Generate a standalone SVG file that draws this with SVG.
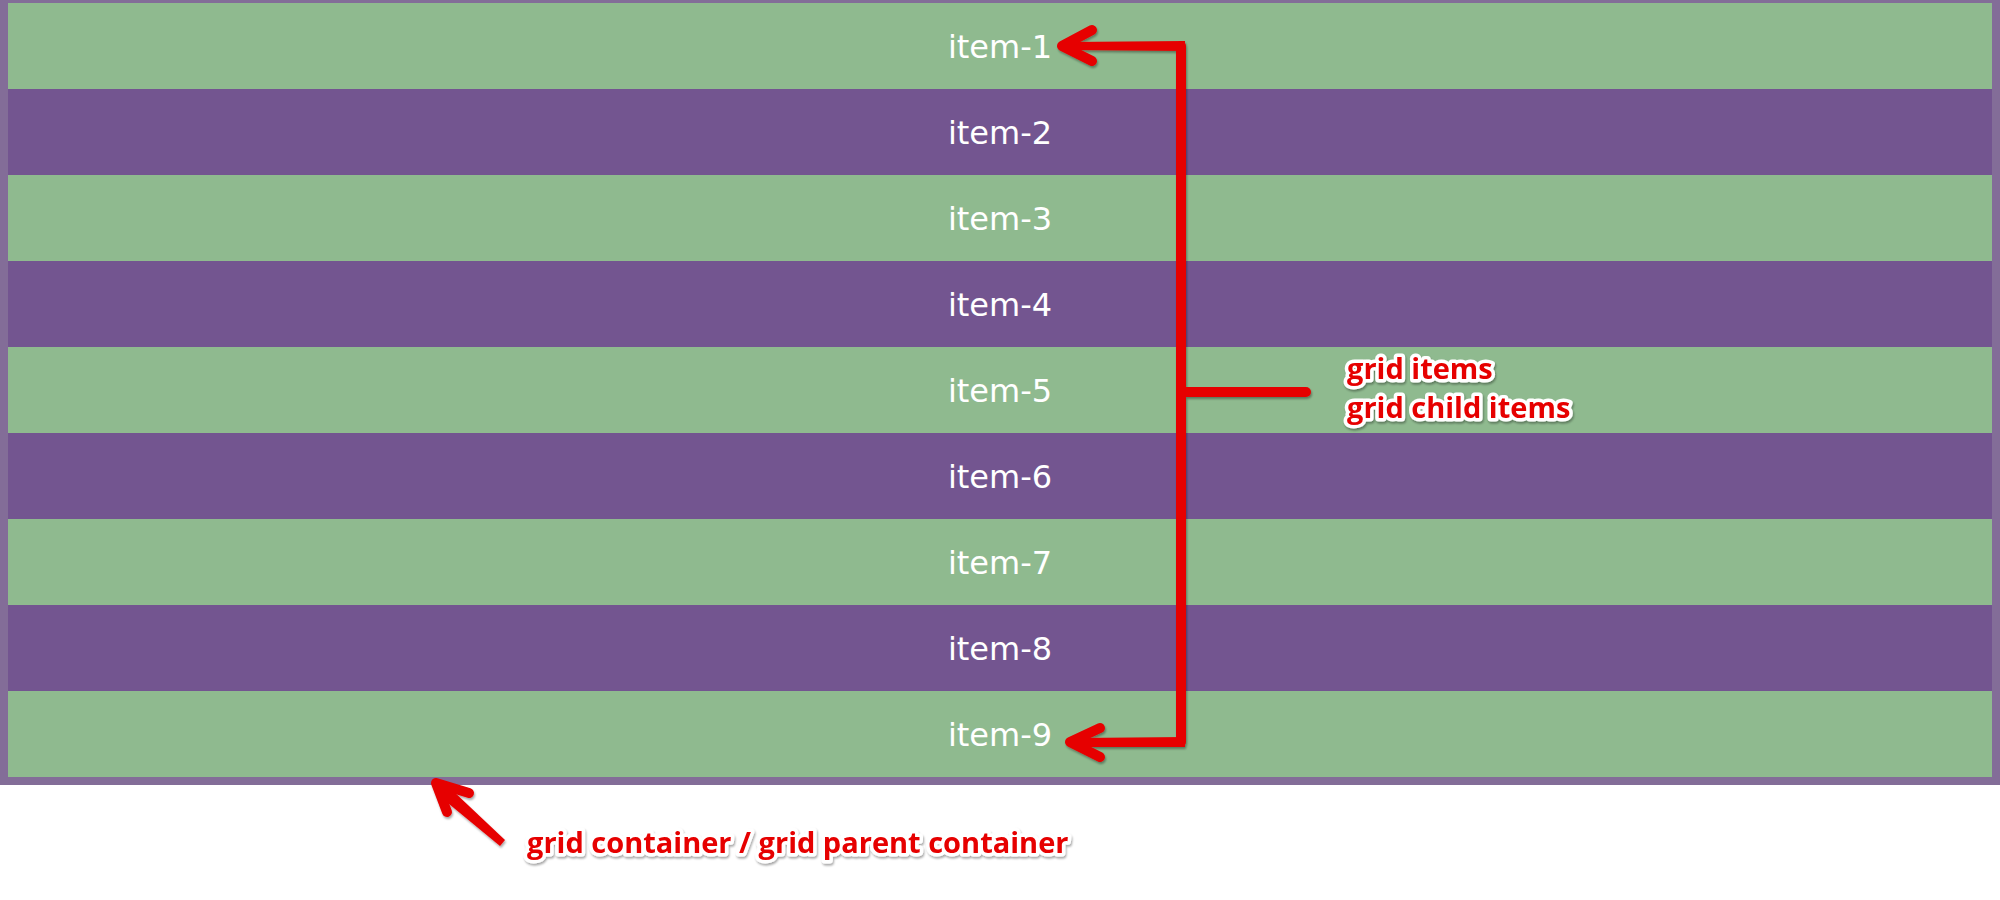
<svg xmlns="http://www.w3.org/2000/svg" width="2000" height="900" viewBox="0 0 2000 900">
<defs>
<style>
.g{fill:#8fba8f}
.p{fill:#735590}
.it{font-family:"DejaVu Sans",Verdana,sans-serif;font-size:32px;fill:#ffffff;text-anchor:middle}
.lbl{font-family:"Open Sans","Noto Sans",sans-serif;font-weight:bold;font-size:29px;fill:#e60000;stroke:#ffffff;stroke-width:7px;stroke-linejoin:round;paint-order:stroke;filter:url(#sh)}
.ln{stroke:#e60000;stroke-width:10;stroke-linecap:round;fill:none}
.hd{fill:#e60000}
</style>
<filter id="sh" x="-10%" y="-30%" width="120%" height="160%">
<feDropShadow dx="1" dy="2" stdDeviation="1.2" flood-color="#000" flood-opacity="0.35"/>
</filter>
</defs>
<rect x="0" y="0" width="2000" height="785" fill="#836d98"/>
<g id="item-1"><rect class="g" x="8" y="3" width="1984" height="86"/><text class="it" x="1000" y="57.5">item-1</text></g>
<g id="item-2"><rect class="p" x="8" y="89" width="1984" height="86"/><text class="it" x="1000" y="143.5">item-2</text></g>
<g id="item-3"><rect class="g" x="8" y="175" width="1984" height="86"/><text class="it" x="1000" y="229.5">item-3</text></g>
<g id="item-4"><rect class="p" x="8" y="261" width="1984" height="86"/><text class="it" x="1000" y="315.5">item-4</text></g>
<g id="item-5"><rect class="g" x="8" y="347" width="1984" height="86"/><text class="it" x="1000" y="401.5">item-5</text></g>
<g id="item-6"><rect class="p" x="8" y="433" width="1984" height="86"/><text class="it" x="1000" y="487.5">item-6</text></g>
<g id="item-7"><rect class="g" x="8" y="519" width="1984" height="86"/><text class="it" x="1000" y="573.5">item-7</text></g>
<g id="item-8"><rect class="p" x="8" y="605" width="1984" height="86"/><text class="it" x="1000" y="659.5">item-8</text></g>
<g id="item-9"><rect class="g" x="8" y="691" width="1984" height="86"/><text class="it" x="1000" y="745.5">item-9</text></g>
<g id="connectors" filter="url(#sh)">
<path class="ln" d="M1181,46 L1181,742"/>
<path class="ln" d="M1181,392 L1306,392"/>
<path class="hd" d="M1185,41 L1185,51 L1070,50 L1060,46 L1070,42 Z"/>
<path class="ln" stroke-width="10" d="M1062,46 L1092,30 M1062,46 L1092,61"/>
<path class="hd" d="M1185,737 L1185,747 L1078,747 L1068,742 L1078,738 Z"/>
<path class="ln" stroke-width="10" d="M1070,742 L1100,728 M1070,742 L1100,757"/>
<path class="hd" d="M505,840 L500,846 L443,799 L434,782 L451,789 Z"/>
<path class="ln" stroke-width="10" d="M436,783 L469,793 M436,783 L447,812"/>
</g>
<g id="label-items">
<text class="lbl" x="1347" y="379">grid items</text>
<text class="lbl" x="1347" y="418">grid child items</text>
</g>
<g id="label-container">
<text class="lbl" x="527" y="853">grid container / grid parent container</text>
</g>
</svg>
